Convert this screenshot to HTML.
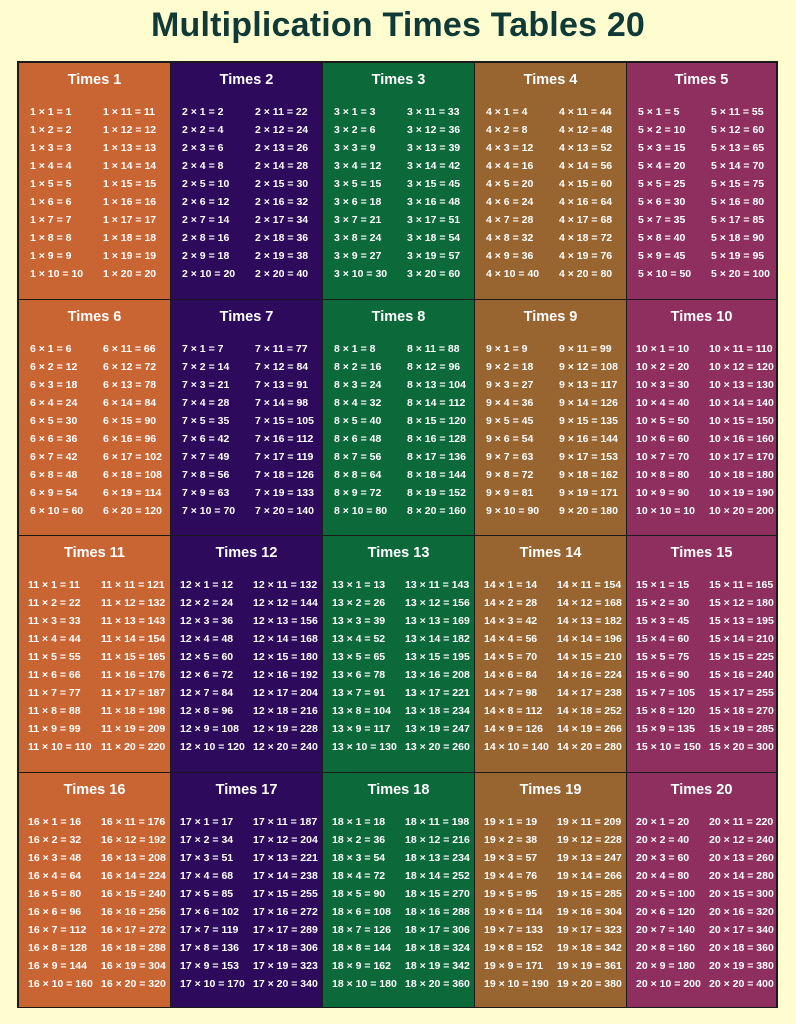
<!DOCTYPE html>
<html><head><meta charset="utf-8"><style>
body{margin:0;width:796px;height:1024px;background:#fffdcf;font-family:"Liberation Sans",sans-serif;overflow:hidden;position:relative}
h1{position:absolute;top:6px;left:0;width:796px;text-align:center;margin:0;font-size:34px;font-weight:bold;color:#0f3a38;letter-spacing:0.2px}
#grid{position:absolute;left:17px;top:61px;width:761px;height:947px;border:2px solid #1a1a1a;box-sizing:border-box;background:#1a1a1a}
.cell{position:absolute;box-sizing:border-box;color:#fff}
.hd{position:absolute;top:9px;left:0;width:100%;text-align:center;font-size:14.5px;font-weight:bold}
.ln{position:absolute;font-size:10.5px;font-weight:bold;white-space:nowrap}
</style></head><body>
<h1>Multiplication Times Tables 20</h1>
<div id="grid"></div>
<script>
const colors=["#c96533","#2e0a5c","#0c6a3a","#98642f","#8f2f60"];
const tables=[1,2,3,4,5,6,7,8,9,10,11,12,13,14,15,16,17,18,19,20];
const grid=document.getElementById('grid');
const colX=[0,152,304,456,608],colW=[151,151,151,151,149];
const rowY=[0,237,473,710],rowH=[236,235,236,234];
tables.forEach((n,i)=>{
  const c=i%5,r=Math.floor(i/5);
  const cell=document.createElement('div');
  cell.className='cell';
  
  
  cell.style.left=colX[c]+'px';cell.style.top=rowY[r]+'px';
  cell.style.width=colW[c]+'px';cell.style.height=rowH[r]+'px';
  cell.style.background=colors[c];
  const h=document.createElement('div');h.className='hd';h.textContent='Times '+n;
  
  
  cell.appendChild(h);
  for(let k=1;k<=20;k++){
    const d=document.createElement('div');d.className='ln';
    
    
    let v=n*k; if(n===10&&k===10)v=10;
    d.textContent=n+' \u00d7 '+k+' = '+v;
    const col=k>10?1:0,row=(k-1)%10;
    d.style.left=(n>=10?(col?82:9):(col?84:11))+'px';
    d.style.top=(43+row*18)+'px';
    cell.appendChild(d);
  }
  grid.appendChild(cell);
});
</script>
</body></html>
